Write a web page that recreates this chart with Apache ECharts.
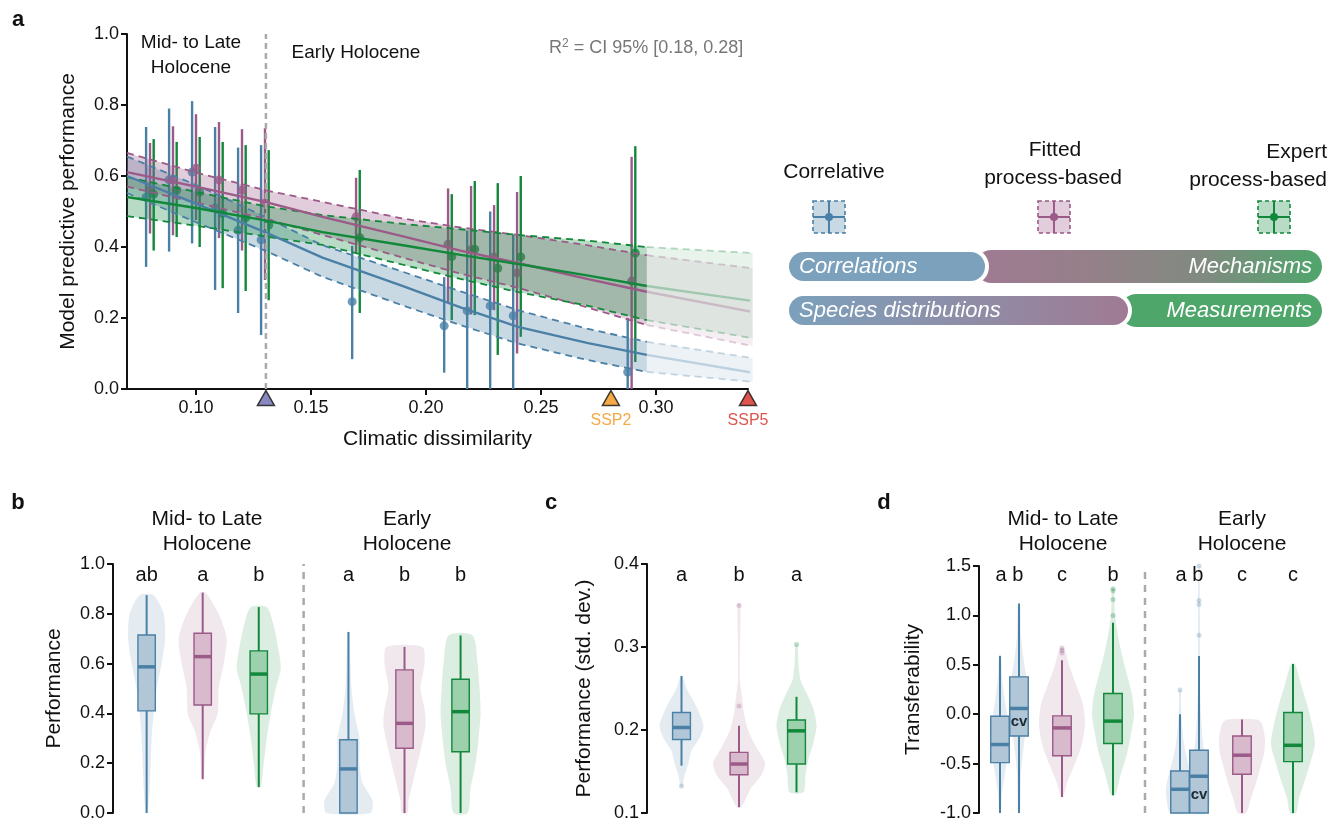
<!DOCTYPE html>
<html>
<head>
<meta charset="utf-8">
<script src="https://cdn.jsdelivr.net/npm/echarts@6/dist/echarts.min.js"></script>
<style>
  html, body { margin: 0; padding: 0; background: #fff; }
  #chart { width: 1329px; height: 824px; }
</style>
</head>
<body>
<div id="chart"></div>
<script>
// ---------- panel a : sites and model estimates ----------
const siteX   = [0.0800, 0.0900, 0.1000, 0.1100, 0.1200, 0.1300, 0.1696, 0.2096, 0.2196, 0.2296, 0.2396, 0.2894];
const corMean = [0.540, 0.589, 0.611, 0.510, 0.447, 0.420, 0.246, 0.178, 0.220, 0.234, 0.206, 0.048];
const corLo   = [0.344, 0.387, 0.410, 0.279, 0.214, 0.152, 0.084, 0.046, 0.000, 0.000, 0.000, 0.000];
const corHi   = [0.738, 0.790, 0.811, 0.738, 0.680, 0.687, 0.403, 0.315, 0.446, 0.500, 0.434, 0.200];
const prcMean = [0.560, 0.589, 0.622, 0.589, 0.560, 0.524, 0.485, 0.408, 0.392, 0.372, 0.327, 0.304];
const prcLo   = [0.438, 0.433, 0.476, 0.425, 0.390, 0.307, 0.383, 0.245, 0.210, 0.222, 0.100, 0.000];
const prcHi   = [0.693, 0.740, 0.774, 0.752, 0.732, 0.735, 0.595, 0.565, 0.572, 0.518, 0.555, 0.654];
const expMean = [0.549, 0.560, 0.555, 0.495, 0.482, 0.462, 0.426, 0.373, 0.394, 0.340, 0.372, 0.383];
const expLo   = [0.390, 0.428, 0.400, 0.284, 0.276, 0.250, 0.214, 0.194, 0.208, 0.096, 0.147, 0.076];
const expHi   = [0.704, 0.696, 0.710, 0.696, 0.687, 0.673, 0.617, 0.549, 0.586, 0.580, 0.600, 0.684];

// fitted curves with 95% bands (last point = extrapolation)
const curveX   = [0.07, 0.10, 0.13, 0.155, 0.19, 0.215, 0.24, 0.27, 0.296, 0.342];
const corCurve = [0.600, 0.522, 0.442, 0.370, 0.290, 0.230, 0.175, 0.130, 0.096, 0.046];
const corUpper = [0.655, 0.575, 0.485, 0.405, 0.330, 0.275, 0.222, 0.170, 0.133, 0.087];
const corLower = [0.552, 0.470, 0.390, 0.316, 0.235, 0.180, 0.128, 0.082, 0.048, 0.020];
const prcCurve = [0.611, 0.570, 0.527, 0.485, 0.430, 0.390, 0.355, 0.310, 0.274, 0.217];
const prcUpper = [0.665, 0.610, 0.560, 0.527, 0.480, 0.455, 0.434, 0.405, 0.377, 0.340];
const prcLower = [0.570, 0.525, 0.480, 0.434, 0.370, 0.325, 0.285, 0.230, 0.180, 0.121];
const expCurve = [0.541, 0.510, 0.475, 0.442, 0.405, 0.378, 0.352, 0.320, 0.290, 0.248];
const expUpper = [0.597, 0.555, 0.515, 0.490, 0.465, 0.450, 0.434, 0.418, 0.400, 0.383];
const expLower = [0.487, 0.460, 0.430, 0.406, 0.350, 0.310, 0.273, 0.235, 0.194, 0.143];

const periodSplit = 0.1304;
const scenX     = [0.1304, 0.2804, 0.3400];
const scenNames = ['', 'SSP2', 'SSP5'];
const xTicksA   = [0.10, 0.15, 0.20, 0.25, 0.30];

// ---------- panel b : performance ----------
const bPos   = [1, 2, 3, 4.6, 5.6, 6.6];
const bModel = [0, 1, 2, 0, 1, 2];
const bStats = [ // lower whisker, q1, median, q3, upper whisker
  [0.000, 0.410, 0.587, 0.715, 0.875],
  [0.136, 0.434, 0.628, 0.722, 0.885],
  [0.104, 0.398, 0.558, 0.651, 0.827],
  [0.000, 0.000, 0.177, 0.294, 0.727],
  [0.000, 0.260, 0.360, 0.575, 0.667],
  [0.000, 0.246, 0.407, 0.537, 0.713]
];
const bViolinY = [
  [0, 0.1, 0.2, 0.3, 0.4, 0.5, 0.6, 0.7, 0.8, 0.875],
  [0.136, 0.25, 0.33, 0.4, 0.5, 0.6, 0.7, 0.8, 0.885],
  [0.104, 0.2, 0.3, 0.4, 0.5, 0.58, 0.65, 0.75, 0.827],
  [0, 0.05, 0.12, 0.2, 0.3, 0.4, 0.5, 0.6, 0.727],
  [0, 0.05, 0.15, 0.25, 0.35, 0.42, 0.5, 0.6, 0.667],
  [0, 0.1, 0.2, 0.3, 0.4, 0.5, 0.6, 0.713]
];
const bViolinW = [
  [1, 3, 4, 5, 7, 10, 15, 18.5, 17, 7],
  [1, 3, 8, 15, 16, 21, 24, 16, 3],
  [2, 5, 8, 12, 17, 22, 20, 15, 8],
  [22, 24, 14, 11, 11, 6, 3, 2, 1],
  [3, 4, 10, 16, 21, 20, 16, 20, 18],
  [7, 10, 15, 18, 20, 19, 17, 12]
];
const bLetters = ['ab', 'a', 'b', 'a', 'b', 'b'];

// ---------- panel c : performance std. dev. ----------
const cPos   = [1, 2, 3];
const cModel = [0, 1, 2];
const cStats = [
  [0.157, 0.1886, 0.203, 0.221, 0.265],
  [0.107, 0.146, 0.159, 0.173, 0.205],
  [0.125, 0.159, 0.199, 0.212, 0.240]
];
const cViolinY = [
  [0.132, 0.145, 0.16, 0.175, 0.19, 0.205, 0.22, 0.235, 0.25, 0.265],
  [0.107, 0.115, 0.13, 0.145, 0.16, 0.18, 0.2, 0.22, 0.24, 0.26, 0.3, 0.352],
  [0.125, 0.145, 0.165, 0.185, 0.205, 0.225, 0.245, 0.26, 0.28, 0.303]
];
const cViolinW = [
  [1, 3, 7, 10, 18, 22, 18, 12, 5, 1],
  [2, 6, 12, 22, 26, 17, 9, 5, 3, 1, 1, 1.5],
  [7, 9, 12, 17, 20, 17, 10, 4, 2, 1]
];
const cOutliers = [[0, 0.1325], [1, 0.229], [1, 0.350], [2, 0.303]];
const cLetters = ['a', 'b', 'a'];

// ---------- panel d : transferability ----------
const dPos   = [0.42, 0.80, 1.66, 2.68, 4.02, 4.40, 5.26, 6.28];
const dModel = [0, 0, 1, 2, 0, 0, 1, 2];
const dStats = [
  [-1.000, -0.490, -0.307, -0.020, 0.590],
  [-1.000, -0.220, 0.058, 0.378, 1.120],
  [-0.838, -0.420, -0.139, -0.017, 0.547],
  [-0.820, -0.297, -0.070, 0.210, 0.925],
  [-1.000, -1.000, -0.760, -0.575, 0.000],
  [-1.000, -1.000, -0.628, -0.365, 0.590],
  [-1.000, -0.608, -0.415, -0.220, -0.054],
  [-1.000, -0.480, -0.315, 0.017, 0.507]
];
const dViolinY = [
  [-1, -0.8, -0.6, -0.4, -0.2, 0, 0.2, 0.4, 0.6],
  [-1, -0.6, -0.3, 0, 0.2, 0.4, 0.6, 0.8, 1.12],
  [-0.84, -0.7, -0.5, -0.3, -0.1, 0.1, 0.3, 0.5, 0.67],
  [-0.82, -0.6, -0.4, -0.2, 0, 0.2, 0.4, 0.6, 0.8, 1.0, 1.27],
  [-1, -0.9, -0.75, -0.6, -0.45, -0.3, -0.1, 0.1, 0.245],
  [-1, -0.85, -0.7, -0.5, -0.3, 0, 0.3, 0.6, 1.0, 1.5],
  [-1, -0.85, -0.7, -0.55, -0.4, -0.25, -0.1, -0.054],
  [-1, -0.85, -0.7, -0.5, -0.3, -0.1, 0.1, 0.3, 0.51]
];
const dViolinW = [
  [1, 2, 5, 8, 9, 7, 4, 2, 1],
  [1, 2, 5, 9, 10, 7, 4, 2, 1],
  [1, 5, 13, 20, 23, 21, 14, 7, 2],
  [2, 8, 14, 18, 21, 19, 14, 9, 5, 2, 1],
  [10, 13, 14, 11, 7, 4, 2, 1, 1],
  [8, 11, 10, 7, 4, 2, 1, 1, 1, 0.5],
  [4, 9, 14, 18, 22, 23, 20, 15],
  [3, 6, 11, 17, 22, 19, 14, 8, 2]
];
const dOutliers = [[2, 0.67], [2, 0.645], [2, 0.62], [3, 1.27], [3, 1.25], [3, 1.16], [3, 1.0],
                   [4, 0.245], [5, 1.5], [5, 1.15], [5, 1.11], [5, 0.8]];
const dLetters = [[0.61, 'a b'], [1.66, 'c'], [2.68, 'b'], [4.21, 'a b'], [5.26, 'c'], [6.28, 'c']];

// ---------- styles ----------
const F = 'Liberation Sans, Arial, sans-serif';
const INK = '#111';
const colLine   = ['#4B80A6', '#9B5A87', '#12883B'];
const colBand   = ['rgba(75,128,166,0.30)', 'rgba(155,90,135,0.30)', 'rgba(18,136,59,0.30)'];
const colBandX  = ['rgba(75,128,166,0.10)', 'rgba(155,90,135,0.10)', 'rgba(18,136,59,0.10)'];
const colBox    = ['#b1c7d7', '#d9bacd', '#9dd0ad'];
const colViolin = ['rgba(75,128,166,0.15)', 'rgba(155,90,135,0.14)', 'rgba(18,136,59,0.15)'];
const colDot    = ['rgba(75,128,166,0.35)', 'rgba(155,90,135,0.35)', 'rgba(18,136,59,0.35)'];
const scenCol   = ['#6c6bb0', '#f39419', '#d42a22'];

const chart = echarts.init(document.getElementById('chart'));

function yAxis(gi, min, max, interval, name, nameGap) {
  return {
    type: 'value', gridIndex: gi, min, max, interval, name,
    nameLocation: 'middle', nameGap,
    nameTextStyle: { fontSize: 21, color: INK, fontFamily: F },
    axisLine: { show: true, lineStyle: { color: INK, width: 2 } },
    axisTick: { show: true, length: 6, lineStyle: { color: INK, width: 2 } },
    axisLabel: { fontSize: 18, color: INK, fontFamily: F, margin: 8, formatter: v => v.toFixed(1) },
    splitLine: { show: false }
  };
}
function hiddenX(gi, min, max) {
  return { type: 'value', gridIndex: gi, min, max, show: false, splitLine: { show: false } };
}

// ---------- panel a series ----------
const curves = [
  [corCurve, corUpper, corLower],
  [prcCurve, prcUpper, prcLower],
  [expCurve, expUpper, expLower]
];
const points = [[corMean, corLo, corHi], [prcMean, prcLo, prcHi], [expMean, expLo, expHi]];
const dodge = [-0.0017, 0, 0.0016];
const nMain = 9; // points inside observed range

const seriesA = [];
points.forEach((p, m) => {
  seriesA.push({
    type: 'custom', xAxisIndex: 0, yAxisIndex: 0, z: 1,
    data: siteX.map((x, i) => [x + dodge[m], p[1][i], p[2][i]]),
    renderItem: (params, api) => {
      const a = api.coord([api.value(0), api.value(1)]);
      const b = api.coord([api.value(0), api.value(2)]);
      return { type: 'line', shape: { x1: a[0], y1: a[1], x2: b[0], y2: b[1] },
               style: { stroke: colLine[m], lineWidth: 2.4 } };
    }
  });
  seriesA.push({
    type: 'scatter', xAxisIndex: 0, yAxisIndex: 0, z: 2, symbolSize: 9,
    itemStyle: { color: colLine[m] },
    data: siteX.map((x, i) => [x + dodge[m], p[0][i]])
  });
});
curves.forEach((c, m) => {
  const up = c[1], lo = c[2];
  seriesA.push({
    type: 'custom', xAxisIndex: 0, yAxisIndex: 0, z: 3, silent: true,
    data: [[curveX[0], up[0]]],
    renderItem: (params, api) => {
      const main = [], ext = [];
      for (let k = 0; k < nMain; k++) main.push(api.coord([curveX[k], up[k]]));
      for (let k = nMain - 1; k >= 0; k--) main.push(api.coord([curveX[k], lo[k]]));
      for (let k = nMain - 1; k < curveX.length; k++) ext.push(api.coord([curveX[k], up[k]]));
      for (let k = curveX.length - 1; k >= nMain - 1; k--) ext.push(api.coord([curveX[k], lo[k]]));
      return { type: 'group', children: [
        { type: 'polygon', shape: { points: main }, style: { fill: colBand[m] } },
        { type: 'polygon', shape: { points: ext }, style: { fill: colBandX[m] } }
      ] };
    }
  });
  const seg = (arr, from, to) => curveX.slice(from, to).map((x, k) => [x, arr[from + k]]);
  [1, 2].forEach(j => {
    seriesA.push({ type: 'line', xAxisIndex: 0, yAxisIndex: 0, z: 4, symbol: 'none', silent: true,
      data: seg(c[j], 0, nMain), lineStyle: { color: colLine[m], width: 1.8, type: [7, 5] } });
    seriesA.push({ type: 'line', xAxisIndex: 0, yAxisIndex: 0, z: 4, symbol: 'none', silent: true,
      data: seg(c[j], nMain - 1, curveX.length), lineStyle: { color: colLine[m], width: 1.8, type: [7, 5], opacity: 0.3 } });
  });
  seriesA.push({ type: 'line', xAxisIndex: 0, yAxisIndex: 0, z: 5, symbol: 'none', silent: true,
    data: seg(c[0], 0, nMain), lineStyle: { color: colLine[m], width: 2.4 } });
  seriesA.push({ type: 'line', xAxisIndex: 0, yAxisIndex: 0, z: 5, symbol: 'none', silent: true,
    data: seg(c[0], nMain - 1, curveX.length), lineStyle: { color: colLine[m], width: 2.4, opacity: 0.3 } });
});
seriesA.push({
  type: 'line', xAxisIndex: 0, yAxisIndex: 0, z: 6, symbol: 'none', silent: true,
  data: [[periodSplit, 0], [periodSplit, 1]],
  lineStyle: { color: '#aaa', width: 2.5, type: [6, 4] }
});
seriesA.push({
  type: 'scatter', xAxisIndex: 0, yAxisIndex: 0, z: 10, clip: false,
  symbol: 'triangle', symbolSize: [17, 15], symbolOffset: [0, 9],
  data: scenX.map((x, i) => ({
    value: [x, 0],
    itemStyle: { color: scenCol[i], borderColor: INK, borderWidth: 1.5 },
    label: { show: scenNames[i] !== '', formatter: scenNames[i], color: scenCol[i] }
  })),
  label: { position: 'bottom', distance: 6, fontSize: 16, fontFamily: F }
});

// ---------- box + violin panels ----------
function boxPanel(gi, pos, model, stats, vY, vW, halfBox, outliers) {
  const out = [];
  out.push({
    type: 'custom', xAxisIndex: gi, yAxisIndex: gi, z: 1, silent: true,
    data: pos.map((p, i) => [p, stats[i][2]]),
    renderItem: (params, api) => {
      const i = params.dataIndex, x = pos[i], ys = vY[i], ws = vW[i];
      const unit = api.size([1, 0])[0];
      const pts = [];
      for (let k = 0; k < ys.length; k++) pts.push(api.coord([x + ws[k] / unit, ys[k]]));
      for (let k = ys.length - 1; k >= 0; k--) pts.push(api.coord([x - ws[k] / unit, ys[k]]));
      return { type: 'polygon', shape: { points: pts, smooth: 0.25 }, style: { fill: colViolin[model[i]] } };
    }
  });
  out.push({
    type: 'custom', xAxisIndex: gi, yAxisIndex: gi, z: 3, silent: true,
    data: pos.map((p, i) => [p, stats[i][2]]),
    renderItem: (params, api) => {
      const i = params.dataIndex, s = stats[i], x = pos[i], c = colLine[model[i]];
      const lo = api.coord([x, s[0]]), hi = api.coord([x, s[4]]);
      const tl = api.coord([x - halfBox, s[3]]), br = api.coord([x + halfBox, s[1]]);
      const ml = api.coord([x - halfBox, s[2]]), mr = api.coord([x + halfBox, s[2]]);
      return { type: 'group', children: [
        { type: 'line', shape: { x1: lo[0], y1: lo[1], x2: hi[0], y2: hi[1] }, style: { stroke: c, lineWidth: 2 } },
        { type: 'rect', shape: { x: tl[0], y: tl[1], width: br[0] - tl[0], height: br[1] - tl[1] },
          style: { fill: colBox[model[i]], stroke: c, lineWidth: 1.4 } },
        { type: 'line', shape: { x1: ml[0], y1: ml[1], x2: mr[0], y2: mr[1] }, style: { stroke: c, lineWidth: 3.5 } }
      ] };
    }
  });
  if (outliers) {
    out.push({
      type: 'scatter', xAxisIndex: gi, yAxisIndex: gi, z: 2, symbolSize: 5, silent: true,
      data: outliers.map(o => ({ value: [pos[o[0]], o[1]], itemStyle: { color: colDot[model[o[0]]] } }))
    });
  }
  return out;
}

const dividerB = 3.8, dividerD = 3.32;
function divider(gi, x, y0, y1) {
  return { type: 'line', xAxisIndex: gi, yAxisIndex: gi, z: 0, symbol: 'none', silent: true,
    data: [[x, y0], [x, y1]], lineStyle: { color: '#aaa', width: 2.5, type: [7, 6] } };
}

const option = {
  animation: false,
  textStyle: { fontFamily: F },
  grid: [
    { left: 127, top: 34, width: 621, height: 355, outerBoundsMode: 'none' },
    { left: 113, top: 564, width: 370, height: 249, outerBoundsMode: 'none' },
    { left: 647, top: 564, width: 184, height: 249, outerBoundsMode: 'none' },
    { left: 979, top: 566, width: 350, height: 247, outerBoundsMode: 'none' }
  ],
  xAxis: [
    {
      type: 'value', gridIndex: 0, min: 0.07, max: 0.34,
      name: 'Climatic dissimilarity', nameLocation: 'middle', nameGap: 40,
      nameTextStyle: { fontSize: 21, color: INK, fontFamily: F },
      axisLine: { show: true, onZero: false, lineStyle: { color: INK, width: 2 } },
      axisTick: { show: true, length: 6, customValues: xTicksA, lineStyle: { color: INK, width: 2 } },
      axisLabel: { fontSize: 18, color: INK, fontFamily: F, margin: 10, customValues: xTicksA, formatter: v => v.toFixed(2) },
      splitLine: { show: false }
    },
    hiddenX(1, 0.4, 7.0),
    hiddenX(2, 0.4, 3.6),
    hiddenX(3, 0, 7)
  ],
  yAxis: [
    yAxis(0, 0, 1, 0.2, 'Model predictive performance', 48),
    yAxis(1, 0, 1, 0.2, 'Performance', 48),
    yAxis(2, 0.1, 0.4, 0.1, 'Performance (std. dev.)', 52),
    yAxis(3, -1, 1.5, 0.5, 'Transferability', 55)
  ],
  series: [].concat(
    seriesA,
    [divider(1, dividerB, 0, 1.0)],
    boxPanel(1, bPos, bModel, bStats, bViolinY, bViolinW, 0.155, null),
    boxPanel(2, cPos, cModel, cStats, cViolinY, cViolinW, 0.155, cOutliers),
    [divider(3, dividerD, -1, 1.5)],
    boxPanel(3, dPos, dModel, dStats, dViolinY, dViolinW, 0.185, dOutliers)
  )
};
chart.setOption(option);

// ---------- annotations ----------
function txt(x, y, text, extra) {
  return { type: 'text', z: 100, silent: true,
    style: Object.assign({ x, y, text, fill: INK, font: '19px ' + F, textAlign: 'center', textVerticalAlign: 'middle' }, extra || {}) };
}
const g = [];
g.push(txt(18, 20, 'a', { font: 'bold 22px ' + F }));
g.push(txt(18, 503, 'b', { font: 'bold 22px ' + F }));
g.push(txt(551, 503, 'c', { font: 'bold 22px ' + F }));
g.push(txt(884, 503, 'd', { font: 'bold 22px ' + F }));

g.push(txt(191, 43, 'Mid- to Late'));
g.push(txt(191, 68, 'Holocene'));
g.push(txt(356, 53, 'Early Holocene'));
g.push({ type: 'text', z: 100, silent: true, style: {
  x: 549, y: 48, textVerticalAlign: 'middle', fill: '#777',
  text: '{a|R}{s|2}{a| = CI 95% [0.18, 0.28]}',
  rich: { a: { fontSize: 18, fontFamily: F, fill: '#777' },
          s: { fontSize: 12, fontFamily: F, fill: '#777', verticalAlign: 'top', padding: [0, 0, 8, 0] } }
} });

// panel headers
[[207, 'Mid- to Late', 'Holocene'], [407, 'Early', 'Holocene'], [1063, 'Mid- to Late', 'Holocene'], [1242, 'Early', 'Holocene']]
  .forEach(h => { g.push(txt(h[0], 519, h[1], { font: '21px ' + F })); g.push(txt(h[0], 544, h[2], { font: '21px ' + F })); });

// significance letters
const letterY = 575;
bPos.forEach((p, i) => g.push(txt(chart.convertToPixel({ gridIndex: 1 }, [p, 0])[0], letterY, bLetters[i], { font: '20px ' + F })));
cPos.forEach((p, i) => g.push(txt(chart.convertToPixel({ gridIndex: 2 }, [p, 0])[0], letterY, cLetters[i], { font: '20px ' + F })));
dLetters.forEach(l => g.push(txt(chart.convertToPixel({ gridIndex: 3 }, [l[0], 0])[0], letterY, l[1], { font: '20px ' + F })));

// cv labels inside the cross-validation boxes
[[dPos[1], -0.08], [dPos[5], -0.82]].forEach(c => {
  const p = chart.convertToPixel({ gridIndex: 3 }, c);
  g.push(txt(p[0], p[1], 'cv', { font: 'bold 15px ' + F, fill: '#1d2a33' }));
});

// legend: model types
const legendX = [829, 1054, 1274];
g.push(txt(834, 172, 'Correlative', { font: '21px ' + F }));
g.push(txt(1055, 150, 'Fitted', { font: '21px ' + F }));
g.push(txt(1053, 178, 'process-based', { font: '21px ' + F }));
g.push(txt(1327, 152, 'Expert', { font: '21px ' + F, textAlign: 'right' }));
g.push(txt(1327, 180, 'process-based', { font: '21px ' + F, textAlign: 'right' }));
legendX.forEach((cx, m) => {
  const cy = 217, h = 16;
  g.push({ type: 'group', z: 100, silent: true, children: [
    { type: 'rect', shape: { x: cx - h, y: cy - h, width: 2 * h, height: 2 * h },
      style: { fill: colBand[m], stroke: colLine[m], lineWidth: 1.6, lineDash: [4, 3] } },
    { type: 'line', shape: { x1: cx - h, y1: cy, x2: cx + h, y2: cy }, style: { stroke: colLine[m], lineWidth: 2 } },
    { type: 'line', shape: { x1: cx, y1: cy - h, x2: cx, y2: cy + h }, style: { stroke: colLine[m], lineWidth: 2 } },
    { type: 'circle', shape: { cx, cy, r: 4 }, style: { fill: colLine[m] } }
  ] });
});

// legend: rounded gradient bars
const gBlue = '#7ba1bc', gPurple = '#a07a93', gGreen = '#4fa66b';
const grad = (stops) => new echarts.graphic.LinearGradient(0, 0, 1, 0, stops.map((c, i) => ({ offset: i / (stops.length - 1), color: c })));
g.push({ type: 'rect', z: 100, silent: true, shape: { x: 975, y: 250, width: 347, height: 33, r: 16.5 },
  style: { fill: grad([gPurple, '#958089', '#7f8b80', gGreen]) } });
g.push({ type: 'rect', z: 101, silent: true, shape: { x: 787, y: 250, width: 200, height: 33, r: 16.5 },
  style: { fill: gBlue, stroke: '#fff', lineWidth: 4 } });
g.push({ type: 'rect', z: 100, silent: true, shape: { x: 1120, y: 294, width: 202, height: 33, r: 16.5 },
  style: { fill: gGreen } });
g.push({ type: 'rect', z: 101, silent: true, shape: { x: 787, y: 294, width: 343, height: 33, r: 16.5 },
  style: { fill: grad([gBlue, '#8e8ea8', gPurple]), stroke: '#fff', lineWidth: 4 } });
const it = { font: 'italic 22px ' + F, fill: '#fff', textAlign: 'left' };
g.push(Object.assign(txt(799, 267, 'Correlations', it), { z: 110 }));
g.push(Object.assign(txt(1312, 267, 'Mechanisms', Object.assign({}, it, { textAlign: 'right' })), { z: 110 }));
g.push(Object.assign(txt(799, 311, 'Species distributions', it), { z: 110 }));
g.push(Object.assign(txt(1312, 311, 'Measurements', Object.assign({}, it, { textAlign: 'right' })), { z: 110 }));

chart.setOption({ graphic: g });
</script>
</body>
</html>
